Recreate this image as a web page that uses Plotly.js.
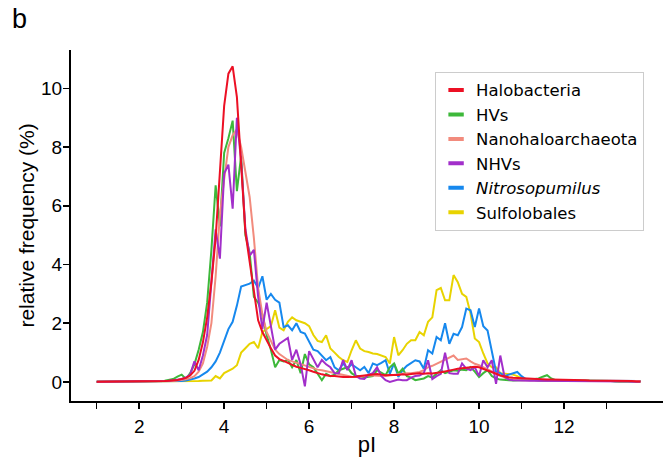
<!DOCTYPE html>
<html>
<head>
<meta charset="utf-8">
<script src="https://cdn.plot.ly/plotly-3.0.1.min.js"></script>
<style>html,body{margin:0;padding:0;background:#fff;}#chart{width:665px;height:457px;}</style>
</head>
<body>
<div id="chart"></div>
<script>
const pI = [1.0,1.1,1.2,1.3,1.4,1.5,1.6,1.7,1.8,1.9,
2.0,2.1,2.2,2.3,2.4,2.5,2.6,2.7,2.8,2.9,
3.0,3.1,3.2,3.3,3.4,3.5,3.6,3.7,3.8,3.9,
4.0,4.1,4.2,4.3,4.4,4.5,4.6,4.7,4.8,4.9,
5.0,5.1,5.2,5.3,5.4,5.5,5.6,5.7,5.8,5.9,
6.0,6.1,6.2,6.3,6.4,6.5,6.6,6.7,6.8,6.9,
7.0,7.1,7.2,7.3,7.4,7.5,7.6,7.7,7.8,7.9,
8.0,8.1,8.2,8.3,8.4,8.5,8.6,8.7,8.8,8.9,
9.0,9.1,9.2,9.3,9.4,9.5,9.6,9.7,9.8,9.9,
10.0,10.1,10.2,10.3,10.4,10.5,10.6,10.7,10.8,10.9,
11.0,11.1,11.2,11.3,11.4,11.5,11.6,11.7,11.8,11.9,
12.0,12.1,12.2,12.3,12.4,12.5,12.6,12.7,12.8,12.9,
13.0,13.1,13.2,13.3,13.4,13.5,13.6,13.7,13.8];

const halobacteria = [0.01,0.01,0.01,0.01,0.01,0.01,0.01,0.01,0.01,0.01,
0.01,0.01,0.01,0.02,0.02,0.02,0.03,0.04,0.05,0.07,
0.1,0.14,0.22,0.38,0.75,1.35,2.2,3.4,4.9,7.1,
9.4,10.5,10.75,9.7,7.4,5.1,4.1,3.1,2.1,1.7,
1.4,1.15,0.9,0.78,0.72,0.65,0.6,0.52,0.48,0.45,
0.4,0.35,0.3,0.26,0.23,0.2,0.2,0.18,0.17,0.17,
0.17,0.18,0.2,0.22,0.23,0.25,0.27,0.25,0.23,0.24,
0.23,0.24,0.26,0.25,0.27,0.28,0.3,0.28,0.3,0.29,
0.3,0.33,0.36,0.38,0.42,0.45,0.47,0.48,0.5,0.52,
0.5,0.45,0.4,0.35,0.28,0.22,0.18,0.16,0.14,0.13,
0.12,0.11,0.1,0.1,0.09,0.09,0.08,0.08,0.08,0.08,
0.08,0.07,0.07,0.06,0.06,0.06,0.05,0.05,0.05,0.05,
0.04,0.04,0.04,0.03,0.03,0.03,0.03,0.02,0.02];

const hvs = [0.01,0.01,0.01,0.01,0.01,0.01,0.01,0.01,0.01,0.01,
0.01,0.01,0.01,0.02,0.02,0.03,0.04,0.06,0.1,0.18,
0.25,0.1,0.3,0.6,1.1,1.7,2.7,4.5,6.7,5.3,
7.8,8.3,8.9,6.5,7.7,5.0,4.4,2.9,2.7,2.3,
1.6,1.1,0.5,0.75,0.7,0.75,0.5,0.75,0.3,0.95,
0.6,0.5,0.3,0.06,0.28,0.2,0.25,0.4,0.45,0.5,
0.3,0.2,0.2,0.15,0.18,0.2,0.4,0.3,0.23,0.5,
0.63,0.28,0.45,0.2,0.15,0.06,0.1,0.12,0.2,0.15,
0.28,0.4,0.3,0.35,0.4,0.38,0.42,0.4,0.51,0.35,
0.17,0.3,0.4,0.2,0.12,0.08,0.06,0.06,0.05,0.05,
0.06,0.07,0.08,0.1,0.12,0.18,0.23,0.12,0.06,0.05,
0.05,0.05,0.04,0.04,0.04,0.04,0.03,0.03,0.03,0.03,
0.03,0.03,0.02,0.02,0.02,0.02,0.02,0.02,0.02];

const nanohaloarchaeota = [0.01,0.01,0.01,0.01,0.01,0.01,0.01,0.01,0.01,0.01,
0.01,0.01,0.01,0.01,0.02,0.02,0.02,0.03,0.03,0.05,
0.06,0.09,0.13,0.2,0.35,0.63,1.2,2.0,3.6,5.7,
6.9,8.0,8.4,8.6,8.0,7.2,6.3,4.9,3.2,2.3,
1.7,1.4,1.1,0.95,0.85,0.75,0.7,0.65,0.6,0.55,
0.51,0.47,0.42,0.4,0.37,0.33,0.3,0.28,0.25,0.2,
0.18,0.17,0.17,0.2,0.23,0.22,0.2,0.2,0.2,0.22,
0.25,0.26,0.28,0.3,0.3,0.32,0.34,0.4,0.5,0.55,
0.62,0.7,0.78,0.85,0.9,0.75,0.78,0.8,0.7,0.62,
0.57,0.5,0.42,0.35,0.28,0.22,0.15,0.1,0.08,0.07,
0.06,0.06,0.05,0.05,0.05,0.05,0.04,0.04,0.04,0.04,
0.04,0.04,0.03,0.03,0.03,0.03,0.03,0.03,0.03,0.03,
0.03,0.03,0.03,0.03,0.03,0.03,0.03,0.03,0.03];

const nhvs = [0.01,0.01,0.01,0.01,0.01,0.01,0.01,0.01,0.01,0.01,
0.01,0.01,0.01,0.01,0.02,0.02,0.03,0.04,0.05,0.08,
0.1,0.15,0.25,0.7,0.4,0.9,1.6,3.3,5.2,4.2,
7.1,7.4,5.9,9.0,7.5,5.2,4.3,4.5,2.9,1.8,
2.7,1.9,1.1,1.3,1.4,1.5,0.75,1.1,0.6,-0.15,
1.05,0.75,0.5,0.75,0.6,0.5,0.3,0.3,0.75,0.4,
0.74,0.2,0.12,0.1,0.25,0.3,0.5,0.2,0.06,0.0,
0.05,0.08,0.06,0.06,0.15,0.2,0.22,0.3,0.74,0.1,
0.2,0.28,1.0,0.3,0.28,0.28,0.63,0.45,0.4,0.5,
0.2,0.74,0.5,0.74,-0.06,0.9,0.17,0.08,0.06,0.05,
0.05,0.05,0.04,0.04,0.04,0.04,0.03,0.03,0.03,0.03,
0.03,0.03,0.03,0.03,0.02,0.02,0.02,0.02,0.02,0.02,
0.02,0.02,0.02,0.02,0.02,0.02,0.01,0.01,0.01];

const nitrosopumilus = [0.01,0.01,0.01,0.01,0.01,0.01,0.01,0.01,0.01,0.01,
0.01,0.01,0.01,0.01,0.01,0.02,0.02,0.02,0.03,0.03,
0.03,0.05,0.08,0.12,0.17,0.25,0.35,0.5,0.7,1.0,
1.4,1.8,2.05,2.6,3.25,3.3,3.35,3.45,3.2,3.6,
2.8,3.0,2.8,2.7,1.87,1.93,1.76,2.0,1.7,1.65,
1.4,1.1,1.05,0.9,0.74,0.85,0.5,0.4,0.63,0.45,
0.6,0.5,0.4,0.51,0.3,0.63,0.57,0.65,0.74,0.28,
0.63,0.17,0.4,0.55,0.65,0.74,0.7,0.45,1.08,0.97,
1.53,1.42,2.0,1.3,1.64,1.59,1.87,2.5,2.44,1.87,
2.5,1.9,1.75,1.1,0.35,0.3,0.2,0.25,0.3,0.34,
0.2,0.1,0.08,0.06,0.05,0.05,0.05,0.04,0.04,0.04,
0.04,0.04,0.04,0.04,0.03,0.03,0.03,0.03,0.03,0.03,
0.03,0.03,0.03,0.03,0.03,0.03,0.03,0.03,0.03];

const sulfolobales = [0.01,0.01,0.01,0.01,0.01,0.01,0.01,0.01,0.01,0.01,
0.01,0.01,0.01,0.01,0.01,0.01,0.01,0.02,0.02,0.02,
0.02,0.02,0.03,0.03,0.03,0.04,0.04,0.05,0.2,0.12,
0.3,0.38,0.45,0.57,1.0,1.15,1.3,1.36,1.15,1.7,
1.8,1.9,2.44,1.85,1.76,2.05,2.2,2.1,2.05,2.0,
1.9,1.6,1.4,1.36,1.59,1.14,1.0,0.85,0.74,0.68,
1.08,1.42,1.14,1.05,1.02,0.97,0.95,0.91,0.85,0.63,
1.53,0.91,1.08,1.3,1.42,1.42,1.7,1.59,2.05,2.2,
3.13,3.2,2.78,2.78,3.64,3.4,3.0,2.9,2.33,1.48,
1.36,0.97,0.63,0.5,0.5,0.3,0.28,0.28,0.25,0.2,
0.12,0.1,0.08,0.07,0.06,0.05,0.05,0.05,0.04,0.04,
0.04,0.04,0.04,0.03,0.03,0.03,0.03,0.03,0.03,0.03,
0.03,0.03,0.03,0.02,0.02,0.02,0.02,0.02,0.02];

const seriesNames = ['Halobacteria','HVs','Nanohaloarchaeota','NHVs','<i>Nitrosopumilus</i>','Sulfolobales'];
const seriesValues = [halobacteria, hvs, nanohaloarchaeota, nhvs, nitrosopumilus, sulfolobales];
const seriesColors = ['#ec1024','#3db83a','#f28b7d','#a22fca','#1688ee','#e8d300'];
const drawOrder = [5, 4, 1, 2, 3, 0];

const xTickVals = [1,2,3,4,5,6,7,8,9,10,11,12,13];
const xTickText = ['','2','','4','','6','','8','','10','','12',''];
const yTickVals = [0,2,4,6,8,10];

const traces = [];
drawOrder.forEach(function(i){
  traces.push({
    x: pI, y: seriesValues[i], type: 'scatter', mode: 'lines',
    line: {color: seriesColors[i], width: 2},
    showlegend: false, hoverinfo: 'skip'
  });
});
seriesNames.forEach(function(name, i){
  traces.push({
    x: [null], y: [null], type: 'scatter', mode: 'markers', name: name,
    marker: {symbol: 'line-ew', size: 11, color: seriesColors[i], line: {width: 4, color: seriesColors[i]}},
    showlegend: true
  });
});

const font = 'Liberation Sans, Arial, sans-serif';
const layout = {
  width: 665, height: 457,
  margin: {l: 71, r: 2, t: 50, b: 56, pad: 0},
  paper_bgcolor: '#ffffff', plot_bgcolor: '#ffffff',
  font: {family: font, color: '#000000'},
  title: {text: 'b', font: {size: 27, family: font, color: '#000'}, x: 0.018, xanchor: 'left', xref: 'container', y: 0.98, yanchor: 'top', yref: 'container'},
  showlegend: true,
  legend: {x: 0.615, y: 0.938, xanchor: 'left', yanchor: 'top', bordercolor: '#cccccc', borderwidth: 1, bgcolor: '#ffffff', font: {size: 16.5, family: 'DejaVu Sans, sans-serif', color: '#000'}, tracegroupgap: 0},
  xaxis: {
    range: [0.395, 14.33], showgrid: false, zeroline: false,
    showline: true, linecolor: '#000', linewidth: 2,
    ticks: 'outside', ticklen: 6, tickwidth: 1.5, tickcolor: '#000',
    tickvals: xTickVals, ticktext: xTickText, ticklabelstandoff: 1,
    tickfont: {size: 19, family: font, color: '#000'},
    title: {text: 'pI', font: {size: 22, family: font, color: '#000'}, standoff: 1}
  },
  yaxis: {
    range: [-0.648, 11.305], showgrid: false, zeroline: false,
    showline: true, linecolor: '#000', linewidth: 2,
    ticks: 'outside', ticklen: 6, tickwidth: 1.5, tickcolor: '#000',
    tickvals: yTickVals, ticklabelstandoff: -3,
    tickfont: {size: 19, family: font, color: '#000'},
    title: {text: 'relative frequency (%)', font: {size: 21, family: font, color: '#000'}, standoff: 1}
  }
};

Plotly.newPlot('chart', traces, layout, {displayModeBar: false, staticPlot: true});
</script>
</body>
</html>
